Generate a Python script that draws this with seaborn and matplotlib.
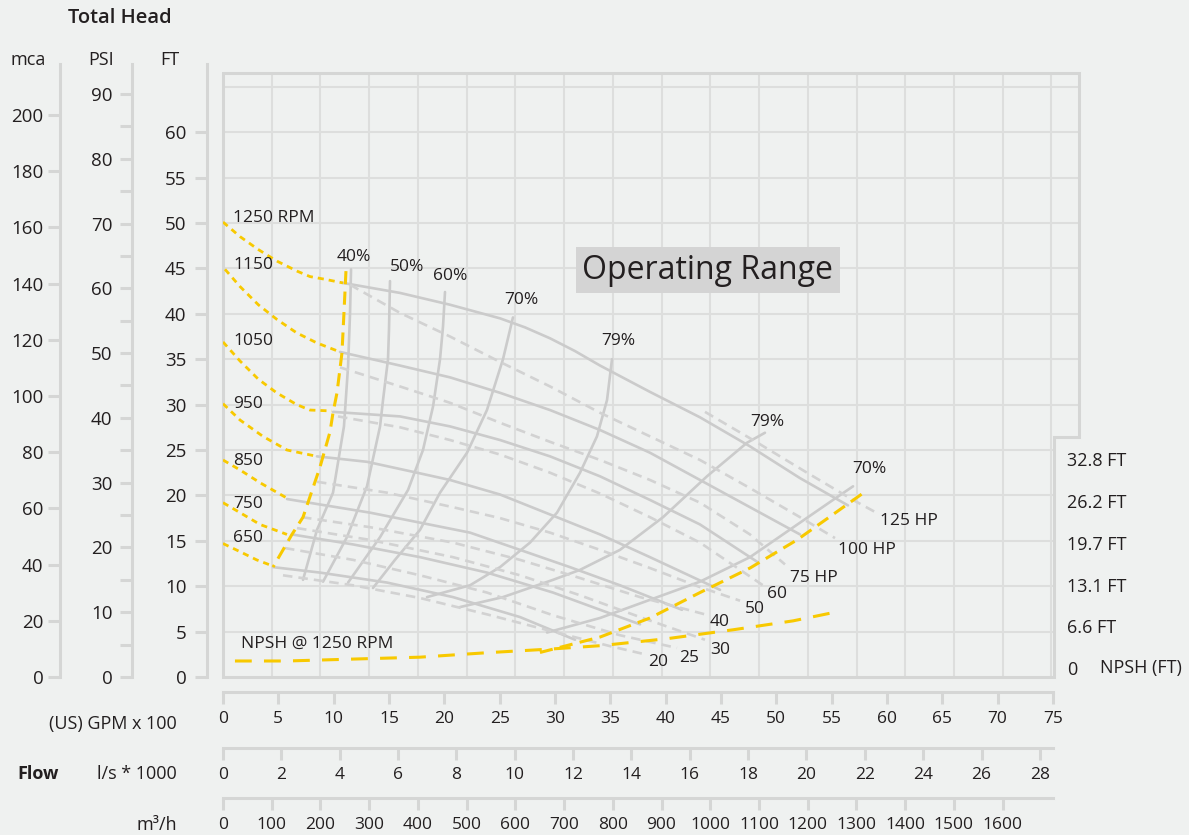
import matplotlib
matplotlib.use("Agg")
import matplotlib.pyplot as plt
import seaborn as sns

# ---------------- data: x = (US) GPM x 100, y = total head in FT ----------------
# yellow dotted start of each speed curve (shut-off side)
dot_x = {
    "1250": [0, 1.54, 3.16, 4.88, 6.69, 7.86, 9.22, 10.84],
    "1150": [0.18, 1.54, 3.19, 4.85, 6.66, 8.47, 10.57],
    "1050": [0, 1.54, 3.19, 4.85, 6.66, 7.86, 9.82],
    "950": [0, 1.54, 3.61, 5.78, 8.49],
    "850": [0, 1.54, 3.34, 5.78],
    "750": [0, 1.54, 3.34, 5.78],
    "650": [0, 1.54, 3.04, 4.55],
}
dot_y = {
    "1250": [50.1, 48.5, 47.1, 45.8, 44.7, 44.1, 43.8, 43.4],
    "1150": [44.9, 43.0, 41.0, 39.4, 37.9, 36.8, 35.8],
    "1050": [36.9, 34.8, 32.8, 31.3, 30.0, 29.4, 29.3],
    "950": [30.1, 28.3, 26.5, 25.0, 24.3],
    "850": [23.9, 22.8, 21.4, 19.7],
    "750": [19.2, 18.1, 16.8, 15.7],
    "650": [14.7, 13.8, 12.9, 12.2],
}

# solid head curves for each speed
head_x = {
    "1250": [10.84, 15.99, 20.51, 25.03, 27.3, 29.55, 31.8, 34.07, 38.58, 43.10, 47.62, 52.14, 56.47],
    "1150": [10.57, 15.99, 20.51, 25.03, 29.55, 34.07, 38.58, 43.10, 47.62, 52.14],
    "1050": [9.94, 15.99, 20.51, 25.03, 29.55, 34.07, 38.58, 43.10, 48.25],
    "950": [8.49, 13.01, 17.53, 20.51, 25.03, 29.55, 34.07, 38.58, 44.91],
    "850": [5.78, 8.76, 13.28, 17.80, 22.32, 26.84, 31.35, 35.87, 41.47],
    "750": [6.23, 11.75, 17.80, 23.85, 29.82, 35.87, 37.68],
    "650": [4.52, 8.76, 14.82, 20.78, 26.84, 31.81],
}
head_y = {
    "1250": [43.4, 42.3, 41.0, 39.5, 38.5, 37.3, 35.9, 34.3, 31.4, 28.6, 25.4, 21.9, 18.9],
    "1150": [35.8, 34.3, 33.0, 31.3, 29.4, 27.2, 24.7, 21.7, 18.7, 15.7],
    "1050": [29.2, 28.7, 27.6, 26.1, 24.3, 22.1, 19.5, 16.8, 12.7],
    "950": [24.3, 23.7, 22.5, 21.7, 20.1, 17.9, 15.7, 13.2, 9.6],
    "850": [19.6, 19.0, 18.1, 17.0, 15.9, 14.0, 12.1, 10.1, 7.4],
    "750": [15.7, 14.6, 13.2, 11.5, 9.3, 6.6, 5.8],
    "650": [12.1, 11.5, 10.4, 8.8, 6.6, 4.1],
}

# efficiency curves
eff_x = {
    "40%": [11.57, 11.48, 11.30, 10.93, 9.94, 8.49, 7.23],
    "50%": [15.09, 15.00, 14.91, 14.46, 14.19, 13.01, 11.20, 9.04],
    "60%": [20.06, 19.88, 19.61, 18.98, 18.07, 16.72, 14.19, 11.30],
    "70%a": [26.20, 25.30, 23.85, 22.05, 19.61, 17.80, 15.54, 13.55],
    "79%a": [35.15, 34.70, 33.79, 32.26, 30.18, 27.74, 25.03, 22.32, 18.43],
    "79%b": [48.97, 47.35, 43.73, 39.76, 35.87, 32.26, 29.82, 25.30, 21.41],
    "70%b": [56.93, 55.12, 52.14, 47.62, 43.10, 38.58, 34.07, 29.28],
}
eff_y = {
    "40%": [44.9, 40.1, 34.2, 27.6, 20.3, 16.2, 10.7],
    "50%": [43.6, 38.3, 35.0, 30.5, 27.6, 21.0, 15.4, 10.5],
    "60%": [42.4, 38.6, 35.0, 29.8, 25.0, 20.6, 15.4, 10.4],
    "70%a": [39.6, 35.0, 29.4, 24.7, 20.3, 16.2, 12.9, 9.8],
    "79%a": [35.0, 30.5, 26.5, 22.5, 18.1, 14.8, 12.1, 10.1, 8.8],
    "79%b": [26.9, 25.8, 22.1, 17.6, 14.0, 11.8, 10.7, 8.8, 7.7],
    "70%b": [21.0, 19.5, 17.0, 13.2, 10.5, 8.5, 6.5, 4.9],
}

# power curves (HP)
hp_x = {
    "125": [43.55, 47.89, 52.77, 56.93, 59.18],
    "100": [11.48, 15.99, 20.51, 25.03, 29.55, 34.07, 38.58, 43.10, 47.62, 52.14, 55.30],
    "75": [10.57, 15.99, 20.51, 25.03, 29.55, 34.07, 38.58, 43.10, 47.62, 50.78],
    "60": [10.39, 15.99, 20.51, 25.03, 29.55, 34.07, 38.58, 43.10, 48.79],
    "50": [8.49, 14.82, 20.78, 25.03, 29.55, 34.07, 38.58, 43.10, 46.72],
    "40": [7.14, 13.28, 20.78, 26.84, 32.26, 37.68, 43.55],
    "30": [6.69, 13.28, 20.78, 26.84, 32.26, 37.68, 43.55],
    "25": [5.60, 11.75, 17.80, 23.85, 29.82, 35.87, 41.02],
    "20": [5.42, 11.75, 17.80, 23.85, 29.82, 34.97, 38.13],
}
hp_y = {
    "125": [29.2, 26.1, 22.5, 19.5, 18.0],
    "100": [43.2, 40.1, 37.5, 34.7, 32.0, 29.1, 26.5, 23.9, 20.8, 17.6, 15.3],
    "75": [34.1, 32.0, 30.2, 28.0, 25.9, 23.9, 21.7, 19.2, 15.7, 12.4],
    "60": [28.7, 27.5, 26.1, 24.5, 22.5, 20.2, 17.6, 14.8, 10.1],
    "50": [21.5, 20.3, 18.7, 17.5, 15.9, 14.0, 12.0, 9.9, 8.4],
    "40": [17.6, 16.5, 14.8, 12.9, 10.9, 8.8, 6.9],
    "30": [16.4, 15.1, 13.2, 11.2, 9.0, 6.6, 4.1],
    "25": [14.2, 12.9, 11.2, 9.3, 6.8, 4.6, 3.2],
    "20": [11.2, 10.1, 8.7, 6.9, 5.0, 3.4, 2.5],
}

# minimum flow line and end-of-curve line (yellow dashed)
minflow_x = [11.11, 10.93, 10.75, 10.30, 9.94, 9.67, 8.76, 7.23, 6.23, 4.52]
minflow_y = [44.7, 40.1, 35.7, 31.3, 29.1, 27.0, 23.1, 17.6, 15.7, 12.1]
endline_x = [28.64, 34.07, 38.58, 43.10, 47.62, 51.87, 55.12, 58.01]
endline_y = [2.7, 4.4, 6.5, 9.3, 12.0, 15.1, 17.9, 20.4]

# NPSH @ 1250 RPM (NPSH in FT)
npsh_x = [1.08, 5.78, 11.74, 17.80, 23.85, 29.82, 34.07, 40.12, 46.09, 51.51, 54.86]
npsh_ft = [1.1, 1.1, 1.4, 1.7, 2.4, 3.0, 3.5, 4.6, 6.0, 7.4, 8.6]
npsh_ticks = [0, 6.6, 13.1, 19.7, 26.2, 32.8]

# axis scales
mca_ticks = list(range(0, 201, 20))
psi_ticks = list(range(0, 91, 10))
psi_minor = list(range(5, 90, 10))
ft_ticks = list(range(0, 61, 5))
gpm_ticks = list(range(0, 76, 5))
ls_ticks = list(range(0, 29, 2))
m3h_ticks = list(range(0, 1601, 100))
grid_m3h = list(range(100, 1701, 100))
grid_ft = list(range(5, 66, 5))

# ---------------- style ----------------
W, H = 1189, 835
BG = "#eff1f0"
GRAY = "#cbcbcb"
GRID = "#dddedd"
FRAME = "#d5d6d5"
YEL = "#f8c900"
INK = "#231f20"
PX_GPM = 11.067   # px per 100 GPM
PX_FT = 9.08      # px per FT
M3H_PER_GPM = 22.71

sns.set_theme(style="white")
plt.rcParams["font.family"] = ["Open Sans", "DejaVu Sans"]
plt.rcParams["font.weight"] = 500
plt.rcParams["text.color"] = INK

fig = plt.figure(figsize=(W / 100, H / 100), dpi=100)
fig.patch.set_facecolor(BG)


def box(l, t, r, b):
    a = fig.add_axes([l / W, 1 - b / H, (r - l) / W, (b - t) / H])
    a.set_facecolor("none")
    for s in a.spines.values():
        s.set_visible(False)
    return a


# main chart
ax = box(223, 73, 1079, 677)
xmax = 856 / PX_GPM
ax.set_xlim(0, xmax)
ax.set_ylim(0, 604 / PX_FT)
ax_n = ax.twinx()
ax_n.set_ylim(-9 / 6.37, 595 / 6.37)
for s in ax_n.spines.values():
    s.set_visible(False)
ax.set_xticks([])
ax.set_yticks([])

step_x = 831 / PX_GPM
step_y = 240 / PX_FT
for m in grid_m3h:
    ax.plot([m / M3H_PER_GPM] * 2, [0, 604 / PX_FT], color=GRID, lw=1.5, zorder=1)
for f in grid_ft:
    ax.plot([0, xmax if f > step_y else step_x], [f, f], color=GRID, lw=1.5, zorder=1)
ax.plot([0, 1, 1, 831 / 856, 831 / 856, 0, 0], [1, 1, 240 / 604, 240 / 604, 0, 0, 1],
        transform=ax.transAxes, color=FRAME, lw=2.2, clip_on=False, zorder=2,
        solid_joinstyle="miter")

solid = dict(color=GRAY, lw=1.9, zorder=3)
dashed = dict(color="#d2d2d2", lw=1.9, linestyle=(0, (3.6, 2.3)), zorder=3)
dotted = dict(color=YEL, lw=2.0, linestyle=(0, (2.2, 1.8)), zorder=4)
ydash = dict(color=YEL, lw=2.2, linestyle=(0, (4.3, 2.4)), zorder=4)


def curve(x, y, style, a=ax):
    sns.lineplot(x=x, y=y, ax=a, sort=False, estimator=None, **style)


for k in head_x:
    curve(head_x[k], head_y[k], solid)
for k in eff_x:
    curve(eff_x[k], eff_y[k], solid)
for k in hp_x:
    curve(hp_x[k], hp_y[k], dashed)
for k in dot_x:
    curve(dot_x[k], dot_y[k], dotted)
curve(minflow_x, minflow_y, ydash)
curve(endline_x, endline_y, ydash)
curve(npsh_x, npsh_ft, dict(color=YEL, lw=2.2, linestyle=(0, (5.5, 4.0)), zorder=4), a=ax_n)

ax.set_xlim(0, xmax)
ax.set_ylim(0, 604 / PX_FT)
ax_n.set_ylim(-9 / 6.37, 595 / 6.37)
ax_n.set_yticks(npsh_ticks)
ax_n.set_yticklabels(["0"] + [f"{v} FT" for v in npsh_ticks[1:]])
ax_n.tick_params(axis="y", length=0, pad=-8.6, labelsize=13, labelcolor=INK)

# curve labels (text, x, y)
labels = [
    ("1250 RPM", 0.9, 50.5), ("1150", 0.9, 45.4), ("1050", 0.9, 37.0), ("950", 0.9, 30.1),
    ("850", 0.9, 23.8), ("750", 0.9, 19.0), ("650", 0.9, 15.3),
    ("40%", 10.3, 46.3), ("50%", 15.1, 45.1), ("60%", 19.0, 44.2), ("70%", 25.4, 41.5),
    ("79%", 34.2, 37.0), ("79%", 47.6, 28.1), ("70%", 56.9, 22.9),
    ("125 HP", 59.4, 17.2), ("100 HP", 55.6, 14.0), ("75 HP", 51.2, 10.9),
    ("60", 49.2, 9.15), ("50", 47.2, 7.5), ("40", 44.0, 6.06), ("30", 44.0, 2.98),
    ("25", 41.2, 2.09), ("20", 38.4, 1.65), ("NPSH @ 1250 RPM", 1.63, 3.64),
]
for s, x, y in labels:
    ax.text(x, y, s, fontsize=12.5, color=INK, ha="left", va="center", zorder=6)
ax.text(43.8, 44.8, "Operating Range", fontsize=23, color=INK, ha="center", va="center",
        zorder=6, bbox=dict(boxstyle="square,pad=0.2", fc="#d4d4d4", ec="none"))

# left head scales
for xpx, top, ticks, minor, pad in [
    (60, 613 / 2.81, mca_ticks, [], 3.6),
    (132, 613 / 6.478, psi_ticks, psi_minor, 5.8),
    (207, 613 / PX_FT, ft_ticks, [], 6.5),
]:
    a = box(xpx, 64, xpx + 1, 677)
    a.spines["left"].set_visible(True)
    a.spines["left"].set_color(FRAME)
    a.spines["left"].set_linewidth(2.2)
    a.set_ylim(0, top)
    a.set_xticks([])
    a.set_yticks(ticks)
    a.set_yticks(minor, minor=True)
    a.tick_params(axis="y", which="both", direction="out", length=8.3, width=2.2,
                  color=FRAME, pad=pad, labelsize=13.5, labelcolor=INK, left=True)

# bottom flow scales
for ypx, lim, ticks in [(692, 75, gpm_ticks), (748, 28.45, ls_ticks), (798, 1703.4, m3h_ticks)]:
    a = box(223, ypx - 1, 1053, ypx)
    a.spines["bottom"].set_visible(True)
    a.spines["bottom"].set_color(FRAME)
    a.spines["bottom"].set_linewidth(2.2)
    a.set_xlim(0, lim)
    a.set_yticks([])
    a.set_xticks(ticks)
    a.tick_params(axis="x", direction="out", length=8.5, width=2.2, color=FRAME,
                  pad=5, labelsize=12.5, labelcolor=INK, bottom=True)

# titles
fig.text(120 / W, 1 - 18 / H, "Total Head", fontsize=14.5, fontweight="semibold",
         ha="center", va="center")
for s, xpx in [("mca", 28), ("PSI", 101), ("FT", 170)]:
    fig.text(xpx / W, 1 - 60 / H, s, fontsize=13, ha="center", va="center")
for s, ypx in [("(US) GPM x 100", 724), ("l/s * 1000", 774), ("m³/h", 825)]:
    fig.text(177 / W, 1 - ypx / H, s, fontsize=13, ha="right", va="center")
fig.text(17 / W, 1 - 774 / H, "Flow", fontsize=13, fontweight="bold", ha="left", va="center")
fig.text(1100 / W, 1 - 668 / H, "NPSH (FT)", fontsize=13, ha="left", va="center")

fig.savefig("out.png", dpi=100, facecolor=BG)
